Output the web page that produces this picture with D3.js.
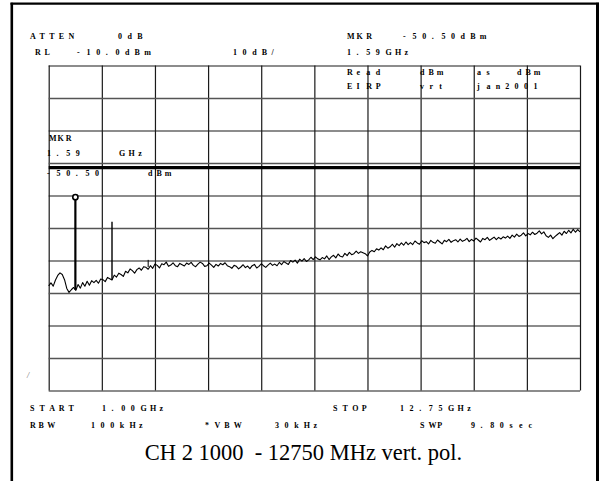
<!DOCTYPE html>
<html>
<head>
<meta charset="utf-8">
<script src="https://cdn.jsdelivr.net/npm/d3@7"></script>
<style>
  html, body { margin: 0; padding: 0; background: #fff; }
  svg { display: block; }
</style>
</head>
<body>
<svg id="chart" width="606" height="481"></svg>
<script>
// ---------------- DATA ----------------
const startGHz = 1.00;
const stopGHz = 12.75;
const sweepStepGHz = 0.05;
const refLevel = -10;      // dBm, top of screen
const dbPerDiv = 10;
const divisions = 10;

// Trace levels (dBm), one per sweep point from 1.00 to 12.75 GHz in 0.05 GHz steps
const traceLevels = [
  // 1.00 - 1.95
  -77.8, -76.9, -77.9, -76.0, -74.6, -73.8, -74.3, -75.9, -78.6, -79.8,
  -79.0, -78.3, -79.2, -77.4, -78.5, -76.8, -77.9, -76.4, -77.6, -76.2,
  // 2.00 - 2.95
  -76.8, -76.1, -77.0, -75.7, -75.9, -76.5, -75.2, -75.6, -76.0, -74.5,
  -75.1, -73.9, -74.3, -74.9, -73.3, -73.8, -72.6, -73.1, -73.9, -72.8,
  // 3.00 - 3.95
  -72.3, -73.0, -71.9, -72.1, -72.7, -71.6, -72.4, -71.1, -71.5, -72.3,
  -71.0, -71.3, -70.5, -71.8, -71.4, -70.7, -71.6, -71.9, -70.9, -71.3,
  // 4.00 - 4.95
  -71.7, -70.8, -71.2, -70.6, -71.5, -71.9, -71.1, -70.5, -70.9, -71.8,
  -71.6, -70.8, -71.4, -72.1, -71.2, -71.7, -70.9, -71.3, -70.7, -71.6,
  // 5.00 - 5.95
  -71.9, -72.4, -71.5, -71.8, -72.6, -72.0, -71.3, -72.2, -71.7, -72.5,
  -71.6, -71.2, -72.3, -71.8, -71.0, -71.6, -72.1, -71.4, -70.8, -71.5,
  // 6.00 - 6.95
  -71.1, -71.6, -70.6, -71.3, -70.3, -70.8, -71.2, -70.0, -70.5, -69.9,
  -70.8, -69.6, -70.2, -69.4, -70.3, -69.8, -69.0, -69.7, -68.9, -69.5,
  // 7.00 - 7.95
  -69.8, -69.1, -69.5, -68.6, -69.7, -68.9, -68.4, -69.2, -68.0, -68.7,
  -68.9, -67.8, -68.5, -67.5, -68.2, -67.9, -67.1, -67.8, -67.3, -67.6,
  // 8.00 - 8.95
  -67.9, -68.6, -67.4, -66.9, -67.3, -66.4, -66.8, -66.1, -66.7, -65.5,
  -66.2, -65.8, -65.0, -65.9, -64.8, -65.4, -64.6, -65.3, -64.3, -65.1,
  // 9.00 - 9.95
  -64.5, -65.1, -64.0, -64.6, -65.0, -63.9, -64.5, -64.2, -64.9, -63.8,
  -64.4, -64.7, -63.7, -64.3, -64.9, -63.8, -64.2, -63.5, -64.4, -63.9,
  // 10.00 - 10.95
  -63.6, -64.3, -63.4, -64.1, -63.8, -63.2, -64.2, -63.5, -64.0, -63.1,
  -63.7, -64.3, -63.2, -63.6, -62.9, -63.8, -63.3, -62.8, -63.6, -62.9,
  // 11.00 - 11.95
  -63.4, -62.7, -63.1, -62.5, -63.2, -62.2, -62.8, -61.9, -62.6, -62.2,
  -61.5, -62.4, -61.7, -62.1, -61.3, -62.0, -61.6, -60.9, -61.8, -61.2,
  // 12.00 - 12.75
  -62.4, -62.9, -62.2, -63.3, -62.6, -62.0, -61.4, -62.2, -61.0, -61.7,
  -60.7, -61.5, -60.4, -61.3, -60.5, -61.2
];

// Narrow spurs / signals on the trace
const spikeFreqs  = [1.59, 2.40, 3.20];
const spikeLevels = [-50.5, -58.1, -69.8];
const spikeBases  = [-79.0, -75.9, -72.0];
const spikeWidths = [2.2, 1.4, 1.0];

const markerFreq = 1.59;
const markerLevel = -50.5;
const displayLine = -41.4;

// Annotation texts
const topLeftLabels = ["ATTEN", "0dB", "RL", "-10.0dBm", "10dB/"];
const topRightLabels = ["MKR", "-50.50dBm", "1.59GHz"];
const noteLabels = ["Read", "dBm", "as", "dBm", "EIRP", "vrt", "jan2001"];
const mkrLabels = ["MKR", "1.59", "GHz", "-50.50", "dBm"];
const bottomLabels = ["START", "1.00GHz", "STOP", "12.75GHz", "RBW", "100kHz", "*VBW", "30kHz", "SWP", "9.80sec"];
const titleText = "CH 2 1000  - 12750 MHz vert. pol.";

// ---------------- DRAW ----------------
const svg = d3.select("#chart");
const W = 606, H = 481;
const plot = { left: 48.7, right: 580, top: 65.5, bottom: 390.5 };

const x = d3.scaleLinear().domain([startGHz, stopGHz]).range([plot.left, plot.right]);
const y = d3.scaleLinear().domain([refLevel - dbPerDiv * divisions, refLevel]).range([plot.bottom, plot.top]);

// outer frame
const frame = svg.append("g");
frame.append("line").attr("x1", 11.8).attr("x2", 11.8).attr("y1", 2.7).attr("y2", H)
  .attr("stroke", "#000").attr("stroke-width", 2.6);
frame.append("line").attr("x1", 10.5).attr("x2", 599).attr("y1", 3.7).attr("y2", 3.7)
  .attr("stroke", "#000").attr("stroke-width", 2.2);
frame.append("line").attr("x1", 597.5).attr("x2", 597.5).attr("y1", 2.7).attr("y2", H)
  .attr("stroke", "#000").attr("stroke-width", 3);

// grid via axes
const xGrid = d3.range(divisions + 1).map(i => startGHz + i * (stopGHz - startGHz) / divisions);
const yGrid = d3.range(divisions + 1).map(i => refLevel - i * dbPerDiv);

const gx = svg.append("g").attr("transform", `translate(0,${plot.bottom})`)
  .call(d3.axisBottom(x).tickValues(xGrid).tickSize(-(plot.bottom - plot.top)).tickFormat(""));
const gy = svg.append("g").attr("transform", `translate(${plot.left},0)`)
  .call(d3.axisLeft(y).tickValues(yGrid).tickSize(-(plot.right - plot.left)).tickFormat(""));
[gx, gy].forEach(g => {
  g.select(".domain").remove();
  g.selectAll(".tick line").attr("stroke", "#1a1a1a").attr("stroke-width", 1.2);
});
gy.selectAll(".tick line").attr("stroke", (d, i) => (i % 2 === 1 ? "#555" : "#1a1a1a")).attr("stroke-width", (d, i) => (i % 2 === 1 ? 1.6 : 1.2));

// display line (thick)
svg.append("line")
  .attr("x1", plot.left).attr("x2", plot.right)
  .attr("y1", y(displayLine)).attr("y2", y(displayLine))
  .attr("stroke", "#000").attr("stroke-width", 3.2);

// trace
const tracePts = traceLevels.map((v, i) => [startGHz + i * sweepStepGHz, v]);
svg.append("path")
  .datum(tracePts)
  .attr("fill", "none")
  .attr("stroke", "#000")
  .attr("stroke-width", 1.1)
  .attr("stroke-linejoin", "round")
  .attr("d", d3.line().x(d => x(d[0])).y(d => y(d[1])));

// spikes
svg.append("g").selectAll("line").data(spikeFreqs).join("line")
  .attr("x1", d => x(d)).attr("x2", d => x(d))
  .attr("y1", (d, i) => y(spikeBases[i])).attr("y2", (d, i) => y(spikeLevels[i]))
  .attr("stroke", "#000").attr("stroke-width", (d, i) => spikeWidths[i]);

// marker
svg.append("circle")
  .attr("cx", x(markerFreq)).attr("cy", y(markerLevel)).attr("r", 2.6)
  .attr("fill", "#fff").attr("stroke", "#000").attr("stroke-width", 1.6);

// small annotation text helper (fixed pitch, bold serif)
function label(t, x0, yb, pitch) {
  const p = pitch || 9.6;
  const xs = Array.from(t).map((c, i) => (x0 + i * p).toFixed(1)).join(" ");
  svg.append("text")
    .attr("x", xs).attr("y", yb)
    .attr("font-family", "'Liberation Serif', 'Times New Roman', serif")
    .attr("font-weight", "bold")
    .attr("font-size", 8)
    .attr("fill", "#000")
    .text(t);
}

// top-left
label(topLeftLabels[0], 30, 39);
label(topLeftLabels[1], 118, 39);
label(topLeftLabels[2], 35, 55);
label(topLeftLabels[3], 77, 55);
label(topLeftLabels[4], 233, 55);
// top-right
label(topRightLabels[0], 347, 39);
label(topRightLabels[1], 403, 39);
label(topRightLabels[2], 347, 55);
// note inside grid
label(noteLabels[0], 347, 75);
label(noteLabels[1], 420, 75, 8.4);
label(noteLabels[2], 477, 75);
label(noteLabels[3], 517, 75, 8.4);
label(noteLabels[4], 347, 89);
label(noteLabels[5], 420, 89);
label(noteLabels[6], 477, 89, 9.4);
// marker readout
label(mkrLabels[0], 49, 141, 8.4);
label(mkrLabels[1], 47, 156);
label(mkrLabels[2], 119, 156);
label(mkrLabels[3], 47, 176);
label(mkrLabels[4], 148, 176, 8.4);
// bottom
label(bottomLabels[0], 30, 411);
label(bottomLabels[1], 102, 411);
label(bottomLabels[2], 333, 411);
label(bottomLabels[3], 400, 411);
label(bottomLabels[4], 30, 428, 8.6);
label(bottomLabels[5], 91, 428);
label(bottomLabels[6], 205, 428);
label(bottomLabels[7], 275, 428);
label(bottomLabels[8], 420, 428, 8.6);
label(bottomLabels[9], 471, 428);

// stray mark
svg.append("text").attr("x", 27).attr("y", 378)
  .attr("font-family", "'Liberation Serif', serif").attr("font-size", 8).attr("font-style", "italic")
  .attr("fill", "#666").text("/");

// title
svg.append("text")
  .attr("x", 303.5).attr("y", 460)
  .attr("text-anchor", "middle")
  .attr("font-family", "'Liberation Serif', 'Times New Roman', serif")
  .attr("font-size", 22.5)
  .attr("fill", "#000")
  .style("white-space", "pre")
  .text(titleText);
</script>
</body>
</html>
